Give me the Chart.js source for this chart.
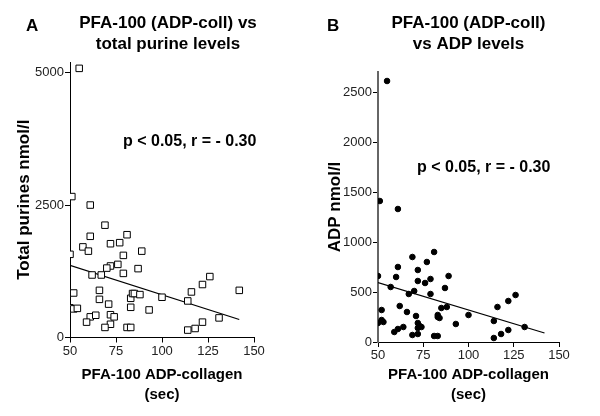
<!DOCTYPE html>
<html>
<head>
<meta charset="utf-8">
<script src="https://cdn.jsdelivr.net/npm/chart.js@4"></script>
<style>
  html, body { margin: 0; padding: 0; background: #fff; }
  .wrap { display: flex; width: 600px; height: 416px; }
  .panel { position: relative; width: 300px; height: 416px; }
</style>
</head>
<body>
<div class="wrap">
  <div class="panel"><canvas id="chart-a" width="300" height="416"></canvas></div>
  <div class="panel"><canvas id="chart-b" width="300" height="416"></canvas></div>
</div>
<script>
// Panel A: PFA-100 closure time vs total purines
const pfaA = [55, 51, 61, 69, 61, 81, 57, 60, 72, 77, 50, 79, 89, 72, 76, 70, 62, 67, 79, 87,
  52, 66, 66, 71, 83, 84, 85, 88, 100, 114, 116, 122, 126, 142, 50, 52, 54, 83, 93, 61,
  64, 59, 72, 74, 72, 69, 81, 83, 114, 118, 122, 131];
const purines = [5080, 2660, 2500, 2120, 1910, 1940, 1710, 1630, 1770, 1790, 1570, 1550, 1630, 1350, 1380, 1310, 1180, 1180, 1210, 1300,
  840, 890, 720, 630, 740, 830, 830, 810, 760, 690, 860, 1000, 1150, 890, 560, 540, 550, 570, 520, 390,
  420, 290, 430, 390, 250, 190, 190, 190, 140, 170, 290, 370];
const fitAx = [50, 142];
const fitAy = [1360, 340];
const yTicksA = [0, 2500, 5000];

// Panel B: PFA-100 closure time vs ADP
const pfaB = [55, 51, 61, 50, 61, 69, 81, 77, 72, 60, 89, 72, 79, 76, 57, 70, 87, 67, 79, 62,
  52, 85, 88, 66, 83, 83, 84, 100, 116, 122, 126, 71, 52, 53, 50, 72, 73, 74, 72, 93,
  114, 131, 64, 61, 59, 69, 72, 81, 83, 114, 118, 122];
const adp = [2610, 1410, 1330, 660, 750, 850, 900, 800, 720, 650, 660, 610, 630, 590, 550, 510, 540, 480, 480, 360,
  320, 340, 350, 300, 270, 250, 240, 270, 350, 410, 470, 260, 220, 200, 190, 190, 160, 150, 140, 180,
  210, 150, 150, 130, 100, 70, 80, 60, 60, 40, 80, 120];
const fitBx = [50, 142];
const fitBy = [595, 90];
const yTicksB = [0, 500, 1000, 1500, 2000, 2500];

const xTicks = [50, 75, 100, 125, 150];

const FONT = "'Liberation Sans', Arial, sans-serif";
const toPts = (xs, ys) => xs.map((x, i) => ({ x, y: ys[i] }));

// draws panel letter, two-line title and stats note
const labels = {
  id: 'panelText',
  afterDraw(chart, args, o) {
    const { ctx } = chart;
    ctx.save();
    ctx.fillStyle = '#000';
    ctx.textBaseline = 'middle';
    ctx.font = 'bold 17px ' + FONT;
    ctx.textAlign = 'left';
    ctx.fillText(o.letter, o.letterX, 26);
    ctx.textAlign = 'center';
    o.title.forEach((t, i) => ctx.fillText(t, o.titleX, 23 + i * 21));
    ctx.font = 'bold 16px ' + FONT;
    ctx.textAlign = 'left';
    ctx.fillText('p < 0.05, r = - 0.30', o.noteX, o.noteY);
    ctx.restore();
  }
};

function makeChart(id, cfg) {
  return new Chart(document.getElementById(id), {
    type: 'scatter',
    data: {
      datasets: [{
        data: toPts(cfg.xs, cfg.ys),
        pointStyle: cfg.pointStyle,
        pointRadius: cfg.radius,
        pointBorderWidth: 1,
        pointBorderColor: '#000',
        pointBackgroundColor: cfg.fill,
      }, {
        type: 'line',
        data: toPts(cfg.fitX, cfg.fitY),
        borderColor: '#000', borderWidth: 1.2,
        pointRadius: 0, fill: false,
      }],
    },
    options: {
      responsive: false, animation: false,
      layout: { padding: { top: cfg.top, right: cfg.right, left: 0, bottom: 0 } },
      plugins: {
        legend: { display: false }, tooltip: { enabled: false },
        panelText: cfg.text,
      },
      scales: {
        x: {
          type: 'linear', min: 50, max: 150,
          afterFit: s => { s.height = cfg.xH; },
          afterBuildTicks: s => { s.ticks = xTicks.map(v => ({ value: v })); },
          border: { color: '#000', width: 1 },
          grid: { drawOnChartArea: false, drawTicks: true, tickLength: 5, color: '#000' },
          ticks: { color: '#222', padding: 1, font: { family: FONT, size: 13 }, callback: v => String(v) },
          title: { display: true, text: ['PFA-100 ADP-collagen', '(sec)'], color: '#000', padding: { top: 0, bottom: 11 },
            font: { family: FONT, size: 15, weight: 'bold', lineHeight: '20px' } },
        },
        y: {
          type: 'linear', min: 0, max: cfg.yMax,
          afterFit: s => { s.width = cfg.yW; },
          afterBuildTicks: s => { s.ticks = cfg.yTicks.map(v => ({ value: v })); },
          ticks: { color: '#222', padding: 1, font: { family: FONT, size: 13 }, callback: v => String(v) },
          border: { color: cfg.yAxisColor, width: cfg.yAxisWidth },
          grid: { drawOnChartArea: false, drawTicks: true, tickLength: 5, color: '#000' },
          title: { display: true, text: cfg.yTitle, color: '#000', padding: { top: cfg.yTitlePad, bottom: 0 },
            font: { family: FONT, size: 17, weight: 'bold' } },
        },
      },
    },
    plugins: [labels],
  });
}

makeChart('chart-a', {
  xs: pfaA, ys: purines, fitX: fitAx, fitY: fitAy,
  pointStyle: 'rect', radius: 4.6, fill: '#fff',
  top: 62, right: 46, xH: 78.5, yW: 70, yMax: 5200, yTicks: yTicksA,
  yTitle: 'Total purines nmol/l', yTitlePad: 14,
  yAxisColor: '#000', yAxisWidth: 1,
  text: { letter: 'A', letterX: 26, titleX: 168, title: ['PFA-100 (ADP-coll) vs', 'total purine levels'], noteX: 123, noteY: 142 },
});

makeChart('chart-b', {
  xs: pfaB, ys: adp, fitX: fitBx, fitY: fitBy,
  pointStyle: 'circle', radius: 2.8, fill: '#000',
  top: 72, right: 41, xH: 74, yW: 78, yMax: 2700, yTicks: yTicksB,
  yTitle: 'ADP nmol/l', yTitlePad: 25,
  yAxisColor: '#666', yAxisWidth: 2,
  text: { letter: 'B', letterX: 27, titleX: 168.5, title: ['PFA-100 (ADP-coll)', 'vs ADP levels'], noteX: 117, noteY: 168 },
});
</script>
</body>
</html>
